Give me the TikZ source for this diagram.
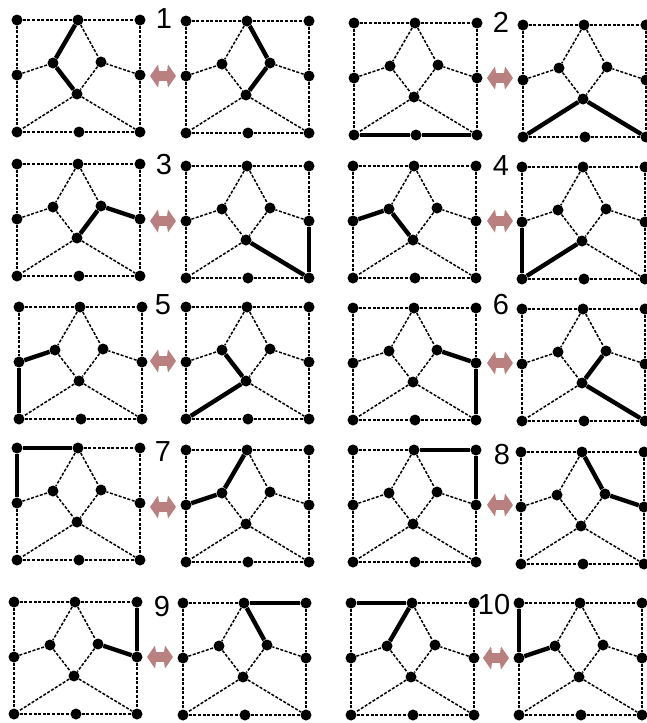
\documentclass[tikz,border=0pt]{standalone}
\usepackage{fontspec}
\setmainfont{Liberation Sans}
\definecolor{arrcol}{HTML}{BA8080}
\tikzset{
  vtx/.style={circle,fill=black,inner sep=0pt,minimum size=11pt},
  thinedge/.style={line width=1.5pt,dash pattern=on 3pt off 1.6pt},
  boldedge/.style={line width=4.4pt},
  numlabel/.style={font=\fontsize{29}{29}\selectfont,inner sep=0pt}
}
\newcommand\drawgraph[4]{%
  \begin{scope}[shift={(#2,#3)}]
    \node[vtx] (#1TL) at (0,0) {};
    \node[vtx] (#1TM) at (61,0) {};
    \node[vtx] (#1TR) at (123,0) {};
    \node[vtx] (#1IL) at (36,43) {};
    \node[vtx] (#1IR) at (84,42) {};
    \node[vtx] (#1LM) at (0,55) {};
    \node[vtx] (#1RM) at (123,55) {};
    \node[vtx] (#1C) at (60,74) {};
    \node[vtx] (#1BL) at (0,112) {};
    \node[vtx] (#1BM) at (62,112) {};
    \node[vtx] (#1BR) at (123,112) {};
  \end{scope}
  \foreach \a/\b in {TL/TM,TM/TR,TL/LM,LM/BL,TR/RM,RM/BR,BL/BM,BM/BR,TM/IL,TM/IR,LM/IL,RM/IR,IL/C,IR/C,C/BL,C/BR}
    \draw[thinedge] (#1\a) -- (#1\b);
  \foreach \a/\b in {#4}
    \draw[boldedge] (#1\a) -- (#1\b);
}
\newcommand\dblarrow[2]{%
  \fill[arrcol,shift={(#1,#2)}] (-13,0) -- (-5,-11.5) -- (-4,-4.8) -- (4,-4.8) -- (5,-11.5) -- (13,0)
    -- (5,11.5) -- (4,4.8) -- (-4,4.8) -- (-5,11.5) -- cycle;
}
\begin{document}
\begin{tikzpicture}[x=1pt,y=-1pt]
\clip (0,0) rectangle (647,723);
% row 1
\drawgraph{La}{17}{20}{TM/IL,IL/C}
\drawgraph{Ra}{186}{21}{TM/IR,IR/C}
\drawgraph{Lb}{354}{23}{BL/BM,BM/BR}
\drawgraph{Rb}{523}{25}{BL/C,C/BR}
% row 2
\drawgraph{Lc}{17}{164}{C/IR,IR/RM}
\drawgraph{Rc}{186}{166}{C/BR,BR/RM}
\drawgraph{Ld}{353}{166}{LM/IL,IL/C}
\drawgraph{Rd}{522}{167}{C/BL,BL/LM}
% row 3
\drawgraph{Le}{19}{307}{BL/LM,LM/IL}
\drawgraph{Re}{186}{307}{BL/C,C/IL}
\drawgraph{Lf}{353}{308}{IR/RM,RM/BR}
\drawgraph{Rf}{522}{309}{IR/C,C/BR}
% row 4
\drawgraph{Lg}{17}{448}{LM/TL,TL/TM}
\drawgraph{Rg}{186}{450}{LM/IL,IL/TM}
\drawgraph{Lh}{353}{450}{TM/TR,TR/RM}
\drawgraph{Rh}{521}{452}{TM/IR,IR/RM}
% row 5
\drawgraph{Li}{14}{602}{IR/RM,RM/TR}
\drawgraph{Ri}{183}{603}{IR/TM,TM/TR}
\drawgraph{Lj}{351}{603}{TL/TM,TM/IL}
\drawgraph{Rj}{519}{603}{TL/LM,LM/IL}
% arrows
\dblarrow{163}{76}
\dblarrow{500}{78}
\dblarrow{163}{221}
\dblarrow{500}{221}
\dblarrow{163}{361}
\dblarrow{500}{363}
\dblarrow{163}{507}
\dblarrow{500}{505}
\dblarrow{160}{657}
\dblarrow{496}{658}
% labels
\node[numlabel] (n1) at (164,19) {1};
\node[numlabel] (n2) at (501,22) {2};
\node[numlabel] (n3) at (164,165) {3};
\node[numlabel] (n4) at (501,166) {4};
\node[numlabel] (n5) at (163,305) {5};
\node[numlabel] (n6) at (501,305) {6};
\node[numlabel] (n7) at (163,452) {7};
\node[numlabel] (n8) at (502,455) {8};
\node[numlabel] (n9) at (162,607) {9};
\node[numlabel] (n10) at (494,605) {10};
\end{tikzpicture}
\end{document}
